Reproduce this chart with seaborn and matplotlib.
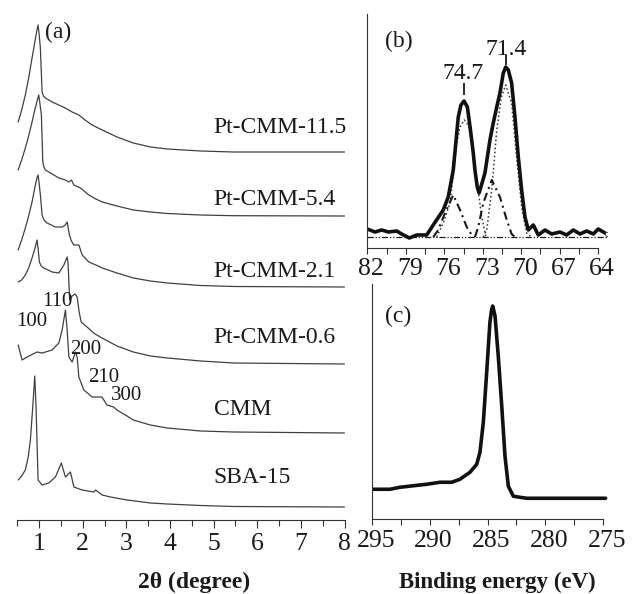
import numpy as np
import pandas as pd
import seaborn as sns
import matplotlib.pyplot as plt
from matplotlib.ticker import FixedLocator
from matplotlib.transforms import ScaledTranslation

sns.set_theme(style='ticks')
plt.rcParams['font.family'] = ['Liberation Serif', 'DejaVu Serif']
plt.rcParams['axes.linewidth'] = 0.8

# ---------------- (a) DRX bas angles ---------------- #
samples = ['Pt-CMM-11.5', 'Pt-CMM-5.4', 'Pt-CMM-2.1', 'Pt-CMM-0.6', 'CMM', 'SBA-15']
offsets = [368, 304, 233, 156, 87, 13]

tt_115 = [0.52, 0.6, 0.684, 0.76, 0.838, 0.89, 0.93, 0.955, 0.976, 1.0, 1.029, 1.05, 1.068, 1.1, 1.144,
          1.3, 1.452, 1.6, 1.757, 1.911, 2.05, 2.217, 2.447, 2.785, 3.16, 3.55, 3.94, 4.7, 5.46, 8.0]
i_115 = [30, 42, 57, 74, 94, 107, 117, 123, 127, 118, 104, 80, 60, 56, 54,
         50, 47, 44, 40, 37, 32, 27, 22, 15, 9, 5, 3, 1, 0, 0]

tt_54 = [0.52, 0.6, 0.684, 0.76, 0.838, 0.89, 0.93, 0.965, 0.992, 1.02, 1.052, 1.07, 1.084, 1.11, 1.144,
         1.3, 1.452, 1.6, 1.682, 1.741, 1.797, 1.948, 2.141, 2.3, 2.447, 2.785, 3.16, 3.55, 3.94, 4.7, 5.46, 8.0]
i_54 = [46, 56, 68, 80, 94, 104, 111, 117, 121, 112, 101, 75, 54, 49, 46,
        42, 38, 36, 34, 36, 31, 28, 21, 17, 14, 10, 6, 4, 2.5, 1, 0.3, 0]

tt_21 = [0.52, 0.6, 0.684, 0.76, 0.838, 0.914, 0.95, 0.976, 1.0, 1.029, 1.068, 1.11, 1.183, 1.374, 1.528, 1.6,
         1.643, 1.695, 1.74, 1.797, 1.911, 1.987, 2.141, 2.3, 2.447, 2.785, 3.16, 3.55, 3.94, 4.7, 5.46, 8.0]
i_21 = [37, 47, 59, 71, 85, 102, 109, 112, 104, 92, 72, 67, 64, 60, 60, 62,
        65, 52, 46, 42, 42, 32, 25, 22, 19, 14, 9, 6, 4, 1.5, 0.5, 0]

tt_06 = [0.52, 0.6, 0.684, 0.76, 0.838, 0.9, 0.953, 0.98, 1.006, 1.05, 1.107, 1.298, 1.452, 1.567, 1.643,
         1.665, 1.682, 1.70, 1.757, 1.826, 1.872, 1.918, 1.964, 2.125, 2.25, 2.40, 2.785, 3.16, 3.55, 3.94, 4.7,
         5.46, 8.0]
i_06 = [82, 84, 89, 96, 106, 115, 124, 114, 102, 98, 96, 92, 91, 99, 107,
        100, 82, 64, 68, 70, 67, 52, 42, 36, 31, 27, 18, 12, 8, 6, 3,
        1, 0]

tt_cmm = [0.52, 0.61, 0.723, 0.953, 1.068, 1.298, 1.452, 1.528, 1.603, 1.643, 1.682, 1.757, 1.833, 1.872,
          1.911, 2.026, 2.217, 2.44, 2.555, 2.707, 2.785, 3.015, 3.16, 3.55, 3.94, 4.7, 5.46, 8.0]
i_cmm = [88, 73, 76, 81, 80, 83, 90, 103, 123, 103, 76, 71, 81, 76,
         56, 43, 36, 36, 28, 26, 23, 17, 13, 8, 5, 2, 1, 0]

tt_sba = [0.52, 0.6, 0.684, 0.75, 0.80, 0.854, 0.90, 0.93, 0.976, 1.068, 1.222, 1.374, 1.51, 1.603, 1.718,
          1.797, 1.987, 2.256, 2.293, 2.447, 2.631, 3.015, 3.55, 3.94, 4.7, 5.46, 8.0]
i_sba = [27, 31, 37, 50, 67, 100, 131, 100, 27, 22, 24, 30, 44, 30, 35,
         20, 17, 15, 17, 12, 10, 7, 4, 3, 1.5, 0.5, 0]

two_theta = [tt_115, tt_54, tt_21, tt_06, tt_cmm, tt_sba]
intensities = [i_115, i_54, i_21, i_06, i_cmm, i_sba]
label_y = [386.7, 315, 243.3, 176.7, 105, 36.7]

hkl = ['100', '110', '200', '210', '300']
hkl_x = [0.84, 1.41, 2.06, 2.49, 3.0]
hkl_y = [198, 218, 171, 143, 124]

# ---------------- (b) XPS Pt 4f ---------------- #
be_b = [82.0, 81.4, 80.88, 80.36, 79.71, 79.32, 78.73, 78.15, 77.37, 76.86, 76.08, 75.69, 75.3,
        74.91, 74.7, 74.46, 74.2, 73.99, 73.74, 73.61, 73.43, 73.29, 73.1, 72.83, 72.44, 72.18,
        71.91, 71.66, 71.4, 71.21, 71.01, 70.75, 70.49, 70.23, 69.97, 69.71, 69.45, 69.06,
        68.67, 68.15, 67.63, 66.98, 66.46, 65.94, 65.42, 64.9, 64.38, 64.0, 63.34]
i_b = [8, 5, 7, 5, 6, 3, -1, 2, 2, 12, 27, 40, 67,
       120, 132, 136, 130, 110, 84, 67, 50, 44, 52, 64, 97, 114,
       130, 144, 164, 170, 167, 154, 120, 80, 47, 20, 7, 12,
       2, 7, 3, 5, 2, 7, 3, 6, 3, 8, 3]

be_dot1 = [76.59, 76.08, 75.55, 75.3, 75.03, 74.77, 74.44, 74.15, 73.86, 73.47, 73.08, 72.75]
i_dot1 = [0, 14, 34, 62, 94, 110, 117, 112, 97, 57, 20, 0]
be_dot2 = [72.96, 72.69, 72.3, 71.91, 71.55, 71.21, 70.75, 70.36, 69.97, 69.58, 69.2]
i_dot2 = [0, 7, 47, 107, 140, 152, 134, 80, 30, 4, 0]
be_dd1 = [76.86, 76.47, 75.94, 75.3, 74.77, 74.25, 73.86, 73.61]
i_dd1 = [0, 7, 24, 42, 27, 10, 2, 0]
be_dd2 = [73.61, 73.35, 72.96, 72.3, 71.66, 71.13, 70.75, 70.49]
i_dd2 = [0, 10, 34, 57, 40, 17, 3, 0]
be_base = [82.0, 63.3]
i_base = [0, 0]

peak_pos = [74.5, 71.2]
peak_txt = ['74.7', '71.4']
peak_txt_y = [158, 182]
peak_bar = [(142, 154), (172, 182)]

# ---------------- (c) XPS C 1s ---------------- #
be_c = [295.0, 293.42, 292.56, 290.25, 289.10, 288.09, 287.38, 286.51, 285.93, 285.65, 285.36,
        285.07, 284.79, 284.65, 284.55, 284.35, 284.07, 283.77, 283.49, 283.20, 282.77, 281.61,
        278.74, 274.8]
i_c = [30, 30, 32, 35, 37, 37, 40, 47, 55, 67, 97,
       147, 197, 209, 213, 203, 163, 113, 63, 33, 23, 21,
       21, 21]

W, H = 632, 594
fig = plt.figure(figsize=(W / 100, H / 100), dpi=100)
ax_a = fig.add_axes([17.3 / W, 74 / H, 327.2 / W, 515 / H])
ax_b = fig.add_axes([367.3 / W, 346 / H, 239.9 / W, 234 / H])
ax_c = fig.add_axes([371.7 / W, 74.7 / H, 237.4 / W, 235.3 / H])

fs = 17
fs_tick = 18.5
ink = '#1a1a1a'

# --- (a)
for name, tt, inten, off, ly in zip(samples, two_theta, intensities, offsets, label_y):
    df = pd.DataFrame({'2theta': tt, 'I': np.array(inten) + off})
    sns.lineplot(data=df, x='2theta', y='I', ax=ax_a, sort=False, estimator=None,
                 color='#404040', lw=0.9)
    ax_a.text(5.0, ly, name, fontsize=fs, ha='left', va='baseline', color=ink)

for t, x, y in zip(hkl, hkl_x, hkl_y):
    ax_a.text(x, y, t, fontsize=15, ha='center', va='center', color=ink)
ax_a.text(1.14, 481.7, '(a)', fontsize=fs, ha='left', va='baseline', color=ink)

ax_a.set_xlim(0.5, 8.0)
ax_a.set_ylim(0, 515)
ax_a.set_xticks(range(1, 9))
ax_a.xaxis.set_minor_locator(FixedLocator(np.arange(0.5, 8.0, 1.0)))
ax_a.set_yticks([])
sns.despine(ax=ax_a, left=True)

# --- (b)
sns.lineplot(x=be_base, y=i_base, ax=ax_b, sort=False, estimator=None, color=ink, lw=0.9,
             linestyle=(0, (5, 1.5, 1, 1.5, 1, 1.5)))
sns.lineplot(x=be_dot1, y=i_dot1, ax=ax_b, sort=False, estimator=None, color='#333333', lw=1.1, linestyle=':')
sns.lineplot(x=be_dot2, y=i_dot2, ax=ax_b, sort=False, estimator=None, color='#333333', lw=1.1, linestyle=':')
sns.lineplot(x=be_dd1, y=i_dd1, ax=ax_b, sort=False, estimator=None, color=ink, lw=1.5,
             linestyle=(0, (4, 2, 1, 2)))
sns.lineplot(x=be_dd2, y=i_dd2, ax=ax_b, sort=False, estimator=None, color=ink, lw=1.5,
             linestyle=(0, (4, 2, 1, 2)))
sns.lineplot(x=be_b, y=i_b, ax=ax_b, sort=False, estimator=None, color='#111111', lw=2.6)
ax_b.plot(be_b[-1:], i_b[-1:], 'o', mfc='white', mec='#555555', ms=3, mew=0.7)

for p, t, ty, (y0, y1) in zip(peak_pos, peak_txt, peak_txt_y, peak_bar):
    ax_b.vlines(p, y0, y1, color=ink, lw=1.3)
    ax_b.text(p, ty, t, fontsize=fs, ha='center', va='baseline', color=ink)
ax_b.text(80.62, 190, '(b)', fontsize=fs, ha='left', va='baseline', color=ink)

ax_b.set_xlim(82, 63.3)
ax_b.set_ylim(-11, 223)
ax_b.set_xticks([82, 79, 76, 73, 70, 67, 64])
ax_b.xaxis.set_minor_locator(FixedLocator(np.arange(64, 82.1, 1.5)))
ax_b.set_yticks([])
sns.despine(ax=ax_b)
ax_b.spines['bottom'].set_bounds(64, 82)

# --- (c)
sns.lineplot(x=be_c, y=i_c, ax=ax_c, sort=False, estimator=None, color='#111111', lw=2.6)
ax_c.text(293.85, 197, '(c)', fontsize=fs, ha='left', va='baseline', color=ink)
ax_c.set_xlim(295, 274.5)
ax_c.set_ylim(0, 235)
ax_c.set_xticks([295, 290, 285, 280, 275])
ax_c.xaxis.set_minor_locator(FixedLocator(np.arange(275, 295.1, 2.5)))
ax_c.set_yticks([])
sns.despine(ax=ax_c)
ax_c.spines['bottom'].set_bounds(275, 295)

for ax in (ax_a, ax_b, ax_c):
    ax.set_xlabel('')
    ax.set_ylabel('')
    for sp in ax.spines.values():
        sp.set_color('#333333')
    ax.tick_params(axis='x', which='major', direction='out', length=6, width=0.8,
                   labelsize=fs_tick, pad=3, colors='#333333', labelcolor=ink)
    ax.tick_params(axis='x', which='minor', direction='out', length=4, width=0.8, colors='#333333')
ax_b.tick_params(axis='x', which='both', length=4.5, pad=2.5)
ax_c.tick_params(axis='x', which='both', length=4.5, pad=3)

shift = ScaledTranslation(4 / 100, 0, fig.dpi_scale_trans)
for ax in (ax_b, ax_c):
    for lab in ax.get_xticklabels():
        lab.set_transform(lab.get_transform() + shift)

fig.text(194.5 / W, 1 - 582 / H, '2θ (degree)', fontsize=fs, fontweight='bold',
         ha='center', va='center', color=ink)
fig.text(497.5 / W, 1 - 582 / H, 'Binding energy (eV)', fontsize=16.5, fontweight='bold',
         ha='center', va='center', color=ink)

fig.savefig('out.png', dpi=100, facecolor='white')
